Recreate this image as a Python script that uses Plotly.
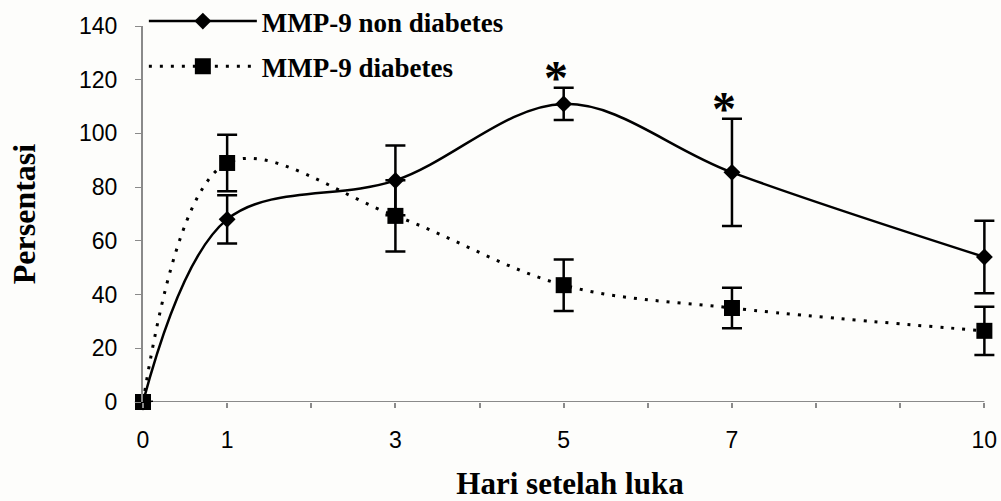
import plotly.graph_objects as go

# ---- data ----
days = [0, 1, 3, 5, 7, 10]
non_diab = [0, 68, 82.5, 111, 85.5, 54]
non_diab_err = [None, 9, 13, 6, 20, 13.5]
diab = [0, 89, 69.3, 43.5, 35, 26.5]
diab_err = [None, 10.5, 13.3, 9.6, 7.5, 9]

series_names = ["MMP-9 non diabetes", "MMP-9 diabetes"]
signif_days = [5, 7]          # days marked with an asterisk (non diabetes)

x_tick_vals = list(range(0, 11))
x_tick_text = ["0", "1", "", "3", "", "5", "", "7", "", "", "10"]
y_tick_vals = [0, 20, 40, 60, 80, 100, 120, 140]

x_title = "Hari setelah luka"
y_title = "Persentasi"

SERIF = "Times New Roman, Liberation Serif, serif"
SANS = "Arial, Liberation Sans, sans-serif"
AXIS_GRAY = "#8a8a8a"

fig = go.Figure()
fig.add_trace(go.Scatter(
    x=days, y=non_diab, name="<b>" + series_names[0] + "</b>", mode="lines+markers",
    legendgroup="a",
    line=dict(color="black", width=2.5, shape="spline", smoothing=1),
    marker=dict(symbol="diamond", size=13, color="black"),
    error_y=dict(type="data", array=non_diab_err, visible=True,
                 color="black", thickness=2.5, width=10),
    cliponaxis=False,
))
fig.add_trace(go.Scatter(
    x=days, y=diab, name="<b>" + series_names[1] + "</b>", mode="lines+markers",
    legendgroup="b",
    line=dict(color="black", width=3, shape="spline", smoothing=1, dash="3px,8px"),
    marker=dict(symbol="square", size=16, color="black"),
    error_y=dict(type="data", array=diab_err, visible=True,
                 color="black", thickness=2.5, width=10),
    cliponaxis=False,
))

for d in signif_days:
    i = days.index(d)
    fig.add_annotation(
        x=d, y=non_diab[i] + non_diab_err[i], xref="x", yref="y",
        text="<b>*</b>", showarrow=False, yanchor="bottom", xshift=-8, yshift=-18,
        font=dict(family=SERIF, size=48, color="black"),
    )

# x axis line drawn only from the first to the last day
fig.add_shape(type="line", xref="x", yref="y", x0=days[0], x1=days[-1], y0=0, y1=0,
              line=dict(color=AXIS_GRAY, width=2), layer="below")

fig.update_layout(
    width=1001, height=501,
    margin=dict(l=143, r=4, t=26, b=99, autoexpand=False),
    paper_bgcolor="#fdfdfb", plot_bgcolor="#fdfdfb",
    showlegend=True,
    legend=dict(
        x=0.001, y=1.077, xanchor="left", yanchor="top",
        bgcolor="rgba(0,0,0,0)", itemwidth=108,
        font=dict(family=SERIF, size=27, color="black"),
        tracegroupgap=7,
    ),
    xaxis=dict(
        range=[0, 10.15], tickvals=x_tick_vals, ticktext=x_tick_text,
        automargin=False,
        showgrid=False, zeroline=False, showline=False,
        ticks="outside", ticklen=5, tickcolor=AXIS_GRAY, tickwidth=1.5,
        tickfont=dict(family=SANS, size=23, color="black"),
        ticklabelstandoff=12,
        title=dict(text="<b>" + x_title + "</b>", standoff=51,
                   font=dict(family=SERIF, size=31, color="black")),
    ),
    yaxis=dict(
        range=[0, 140], tickvals=y_tick_vals,
        automargin=False,
        showgrid=False, zeroline=False, showline=True, linecolor=AXIS_GRAY,
        linewidth=2, ticks="outside", ticklen=6, tickcolor=AXIS_GRAY,
        tickfont=dict(family=SANS, size=23, color="black"),
        ticklabelstandoff=13,
        title=dict(text="<b>" + y_title + "</b>", standoff=34,
                   font=dict(family=SERIF, size=32, color="black")),
    ),
)

# remove the browser's default page margin so the figure fills the window exactly
fig.write_html(
    "out.html",
    config={"displayModeBar": False},
    post_script="document.body.style.margin='0';document.body.style.overflow='hidden';",
)
